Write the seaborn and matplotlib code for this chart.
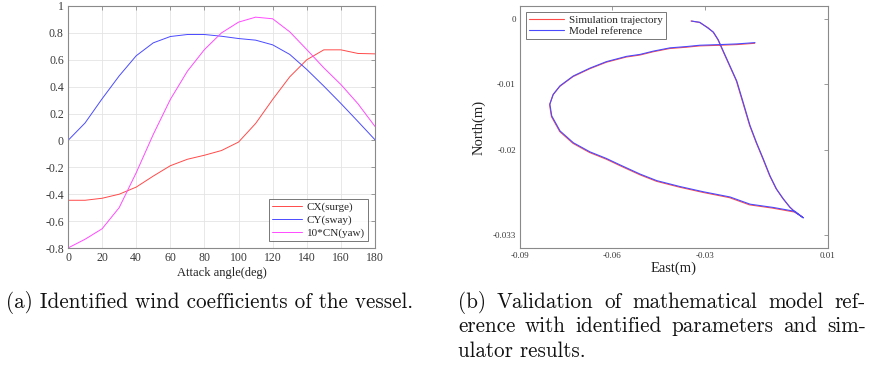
import numpy as np
import pandas as pd
import matplotlib
matplotlib.use("Agg")
import matplotlib.pyplot as plt
import seaborn as sns

# ---------------- data: wind coefficients ----------------
angle = [0, 10, 20, 30, 40, 50, 60, 70, 80, 90, 100, 110, 120, 130, 140, 150, 160, 170, 180]
cx_surge = [-0.445, -0.445, -0.43, -0.40, -0.347, -0.265, -0.188, -0.14, -0.11, -0.075, -0.012,
            0.126, 0.305, 0.473, 0.60, 0.674, 0.674, 0.647, 0.644]
cy_sway = [0.0, 0.13, 0.31, 0.48, 0.63, 0.726, 0.773, 0.788, 0.788, 0.775, 0.758, 0.746,
           0.711, 0.64, 0.528, 0.404, 0.275, 0.141, 0.005]
cn_yaw10 = [-0.80, -0.735, -0.657, -0.50, -0.24, 0.045, 0.305, 0.515, 0.676, 0.80, 0.88,
            0.917, 0.905, 0.808, 0.676, 0.54, 0.416, 0.273, 0.104]
series_names = ["CX(surge)", "CY(sway)", "10*CN(yaw)"]

# ---------------- data: trajectory ----------------
model_east = [-0.0343, -0.0316, -0.0289, -0.0272, -0.0256, -0.0240, -0.0218, -0.0196, -0.0175,
              -0.0153, -0.0132, -0.0110, -0.0088, -0.0067, -0.0045, -0.0023, -0.0007, 0.0020,
              -0.0007, -0.0078, -0.0153, -0.0218, -0.0305, -0.0381, -0.0456, -0.0510, -0.0575,
              -0.0620, -0.0673, -0.0727, -0.0770, -0.0797, -0.0803, -0.0792, -0.0770, -0.0727,
              -0.0673, -0.0619, -0.0554, -0.0510, -0.0467, -0.0413, -0.0359, -0.0316, -0.0251,
              -0.0196, -0.0137]
model_north = [-0.0003, -0.0005, -0.0014, -0.0020, -0.0032, -0.0049, -0.0072, -0.0095, -0.0128,
               -0.0163, -0.0189, -0.0214, -0.0240, -0.0260, -0.0275, -0.0288, -0.0295, -0.0304,
               -0.0294, -0.0288, -0.0283, -0.0272, -0.0264, -0.0256, -0.0247, -0.0237, -0.0223,
               -0.0213, -0.0203, -0.0189, -0.0171, -0.0148, -0.0130, -0.0115, -0.0102, -0.0087,
               -0.0075, -0.0065, -0.0057, -0.0054, -0.0049, -0.0044, -0.0042, -0.0040, -0.0039,
               -0.0038, -0.0036]
sim_east = [-0.0345, -0.0318, -0.0290, -0.0273, -0.0258, -0.0242, -0.0220, -0.0198, -0.0177,
            -0.0155, -0.0134, -0.0112, -0.0090, -0.0069, -0.0047, -0.0025, -0.0009, 0.0018,
            -0.0009, -0.0080, -0.0155, -0.0220, -0.0306, -0.0382, -0.0457, -0.0511, -0.0576,
            -0.0621, -0.0674, -0.0728, -0.0771, -0.0798, -0.0804, -0.0793, -0.0771, -0.0728,
            -0.0674, -0.0620, -0.0555, -0.0511, -0.0468, -0.0414, -0.0360, -0.0317, -0.0252,
            -0.0197, -0.0138]
sim_north = [-0.0003, -0.0005, -0.0013, -0.0020, -0.0031, -0.0048, -0.0071, -0.0094, -0.0127,
             -0.0162, -0.0188, -0.0213, -0.0239, -0.0259, -0.0274, -0.0287, -0.0294, -0.0303,
             -0.0295, -0.0289, -0.0284, -0.0273, -0.0265, -0.0257, -0.0248, -0.0238, -0.0224,
             -0.0214, -0.0204, -0.0190, -0.0172, -0.0149, -0.0131, -0.0116, -0.0103, -0.0088,
             -0.0076, -0.0066, -0.0058, -0.0055, -0.0050, -0.0045, -0.0043, -0.0041, -0.0040,
             -0.0039, -0.0037]
traj_names = ["Simulation trajectory", "Model reference"]

left_xticks = [0, 20, 40, 60, 80, 100, 120, 140, 160, 180]
left_yticks = [-0.8, -0.6, -0.4, -0.2, 0, 0.2, 0.4, 0.6, 0.8, 1]
left_yticklabels = ["-0.8", "-0.6", "-0.4", "-0.2", "0", "0.2", "0.4", "0.6", "0.8", "1"]
right_xticks = [-0.09, -0.06, -0.03, 0.01]
right_xticklabels = ["-0.09", "-0.06", "-0.03", "0.01"]
right_yticks = [-0.033, -0.02, -0.01, 0]
right_yticklabels = ["-0.033", "-0.02", "-0.01", "0"]

caption_a = "(a) Identified wind coefficients of the vessel."
caption_b_lines = ["(b) Validation of mathematical model ref-",
                   "erence with identified parameters and sim-",
                   "ulator results."]

# ---------------- style ----------------
sns.set_theme(style="white")
plt.rcParams["font.family"] = ["Liberation Serif", "DejaVu Serif"]
plt.rcParams["axes.unicode_minus"] = False

W, H = 872, 375
fig = plt.figure(figsize=(W / 100, H / 100), dpi=100)
ax1 = fig.add_axes([68 / W, 1 - 248 / H, 307 / W, 242 / H])
ax2 = fig.add_axes([520 / W, 1 - 248 / H, 308 / W, 242 / H])

spine_col = "#8a8a8a"
tick_col = "#3a3a3a"

# left chart
df1 = pd.DataFrame({
    "angle": angle * 3,
    "value": cx_surge + cy_sway + cn_yaw10,
    "series": [series_names[0]] * len(angle) + [series_names[1]] * len(angle) + [series_names[2]] * len(angle),
})
palette1 = {series_names[0]: "#ff4a4a", series_names[1]: "#4a4aff", series_names[2]: "#ff4aff"}
sns.lineplot(data=df1, x="angle", y="value", hue="series", palette=palette1,
             linewidth=0.7, ax=ax1, sort=False)
ax1.set_xlim(0, 180)
ax1.set_ylim(-0.8, 1.0)
ax1.set_xticks(left_xticks)
ax1.set_yticks(left_yticks)
ax1.set_yticklabels(left_yticklabels)
ax1.grid(True, color="#e4e4e4", linewidth=0.6)
ax1.set_axisbelow(True)
ax1.set_xlabel("Attack angle(deg)", fontsize=9, color="#222222", labelpad=2)
ax1.set_ylabel("")
leg1 = ax1.legend(loc="lower right", fontsize=8, frameon=True, fancybox=False,
                  edgecolor="#555555", handlelength=2.7, borderpad=0.3, labelspacing=0.25,
                  handletextpad=0.4, borderaxespad=0.6)
leg1.get_frame().set_linewidth(0.7)

# right chart
df2 = pd.DataFrame({
    "east": sim_east + model_east,
    "north": sim_north + model_north,
    "series": [traj_names[0]] * len(sim_east) + [traj_names[1]] * len(model_east),
})
palette2 = {traj_names[0]: "#ff4a4a", traj_names[1]: "#4a4aff"}
sns.lineplot(data=df2, x="east", y="north", hue="series", palette=palette2,
             linewidth=0.8, ax=ax2, sort=False, estimator=None)
ax2.set_xlim(-0.09, 0.01)
ax2.set_ylim(-0.035, 0.002)
ax2.set_xticks(right_xticks)
ax2.set_xticklabels(right_xticklabels)
ax2.set_yticks(right_yticks)
ax2.set_yticklabels(right_yticklabels)
ax2.set_xlabel("East(m)", fontsize=10.5, color="#222222", labelpad=1)
ax2.set_ylabel("North(m)", fontsize=10.5, color="#222222", labelpad=5)
leg2 = ax2.legend(loc="upper left", fontsize=8, frameon=True, fancybox=False,
                  edgecolor="#555555", handlelength=3.2, borderpad=0.3, labelspacing=0.15,
                  handletextpad=0.4, borderaxespad=0.5)
leg2.get_frame().set_linewidth(0.7)

for ax, fs in ((ax1, 8.5), (ax2, 6.5)):
    for s in ax.spines.values():
        s.set_visible(True)
        s.set_color(spine_col)
        s.set_linewidth(0.8)
    ax.tick_params(direction="in", top=True, right=True, length=3, width=0.6,
                   colors=spine_col, labelcolor=tick_col, labelsize=fs, pad=3)

# ---------------- captions ----------------
cap_font = ["cmr10", "DejaVu Serif"]
cap_size = 15.2
cap_col = "#111111"
renderer = fig.canvas.get_renderer()


def put_line(text, x0, y_base, x1=None):
    """Place a caption line; if x1 is given, justify words between x0 and x1 (pixels)."""
    if x1 is None:
        fig.text(x0 / W, 1 - y_base / H, text, fontsize=cap_size, family=cap_font,
                 va="baseline", ha="left", color=cap_col)
        return
    words = text.split(" ")
    arts = [fig.text(0, 1 - y_base / H, w, fontsize=cap_size, family=cap_font,
                     va="baseline", ha="left", color=cap_col) for w in words]
    widths = [a.get_window_extent(renderer).width for a in arts]
    gap = (x1 - x0 - sum(widths)) / (len(words) - 1)
    x = x0
    for a, wd in zip(arts, widths):
        a.set_x(x / W)
        x += wd + gap


put_line(caption_a, 6, 308)
put_line(caption_b_lines[0], 458, 308, 866)
put_line(caption_b_lines[1], 458, 332.5, 866)
put_line(caption_b_lines[2], 458, 357)

fig.savefig("out.png", dpi=100)
